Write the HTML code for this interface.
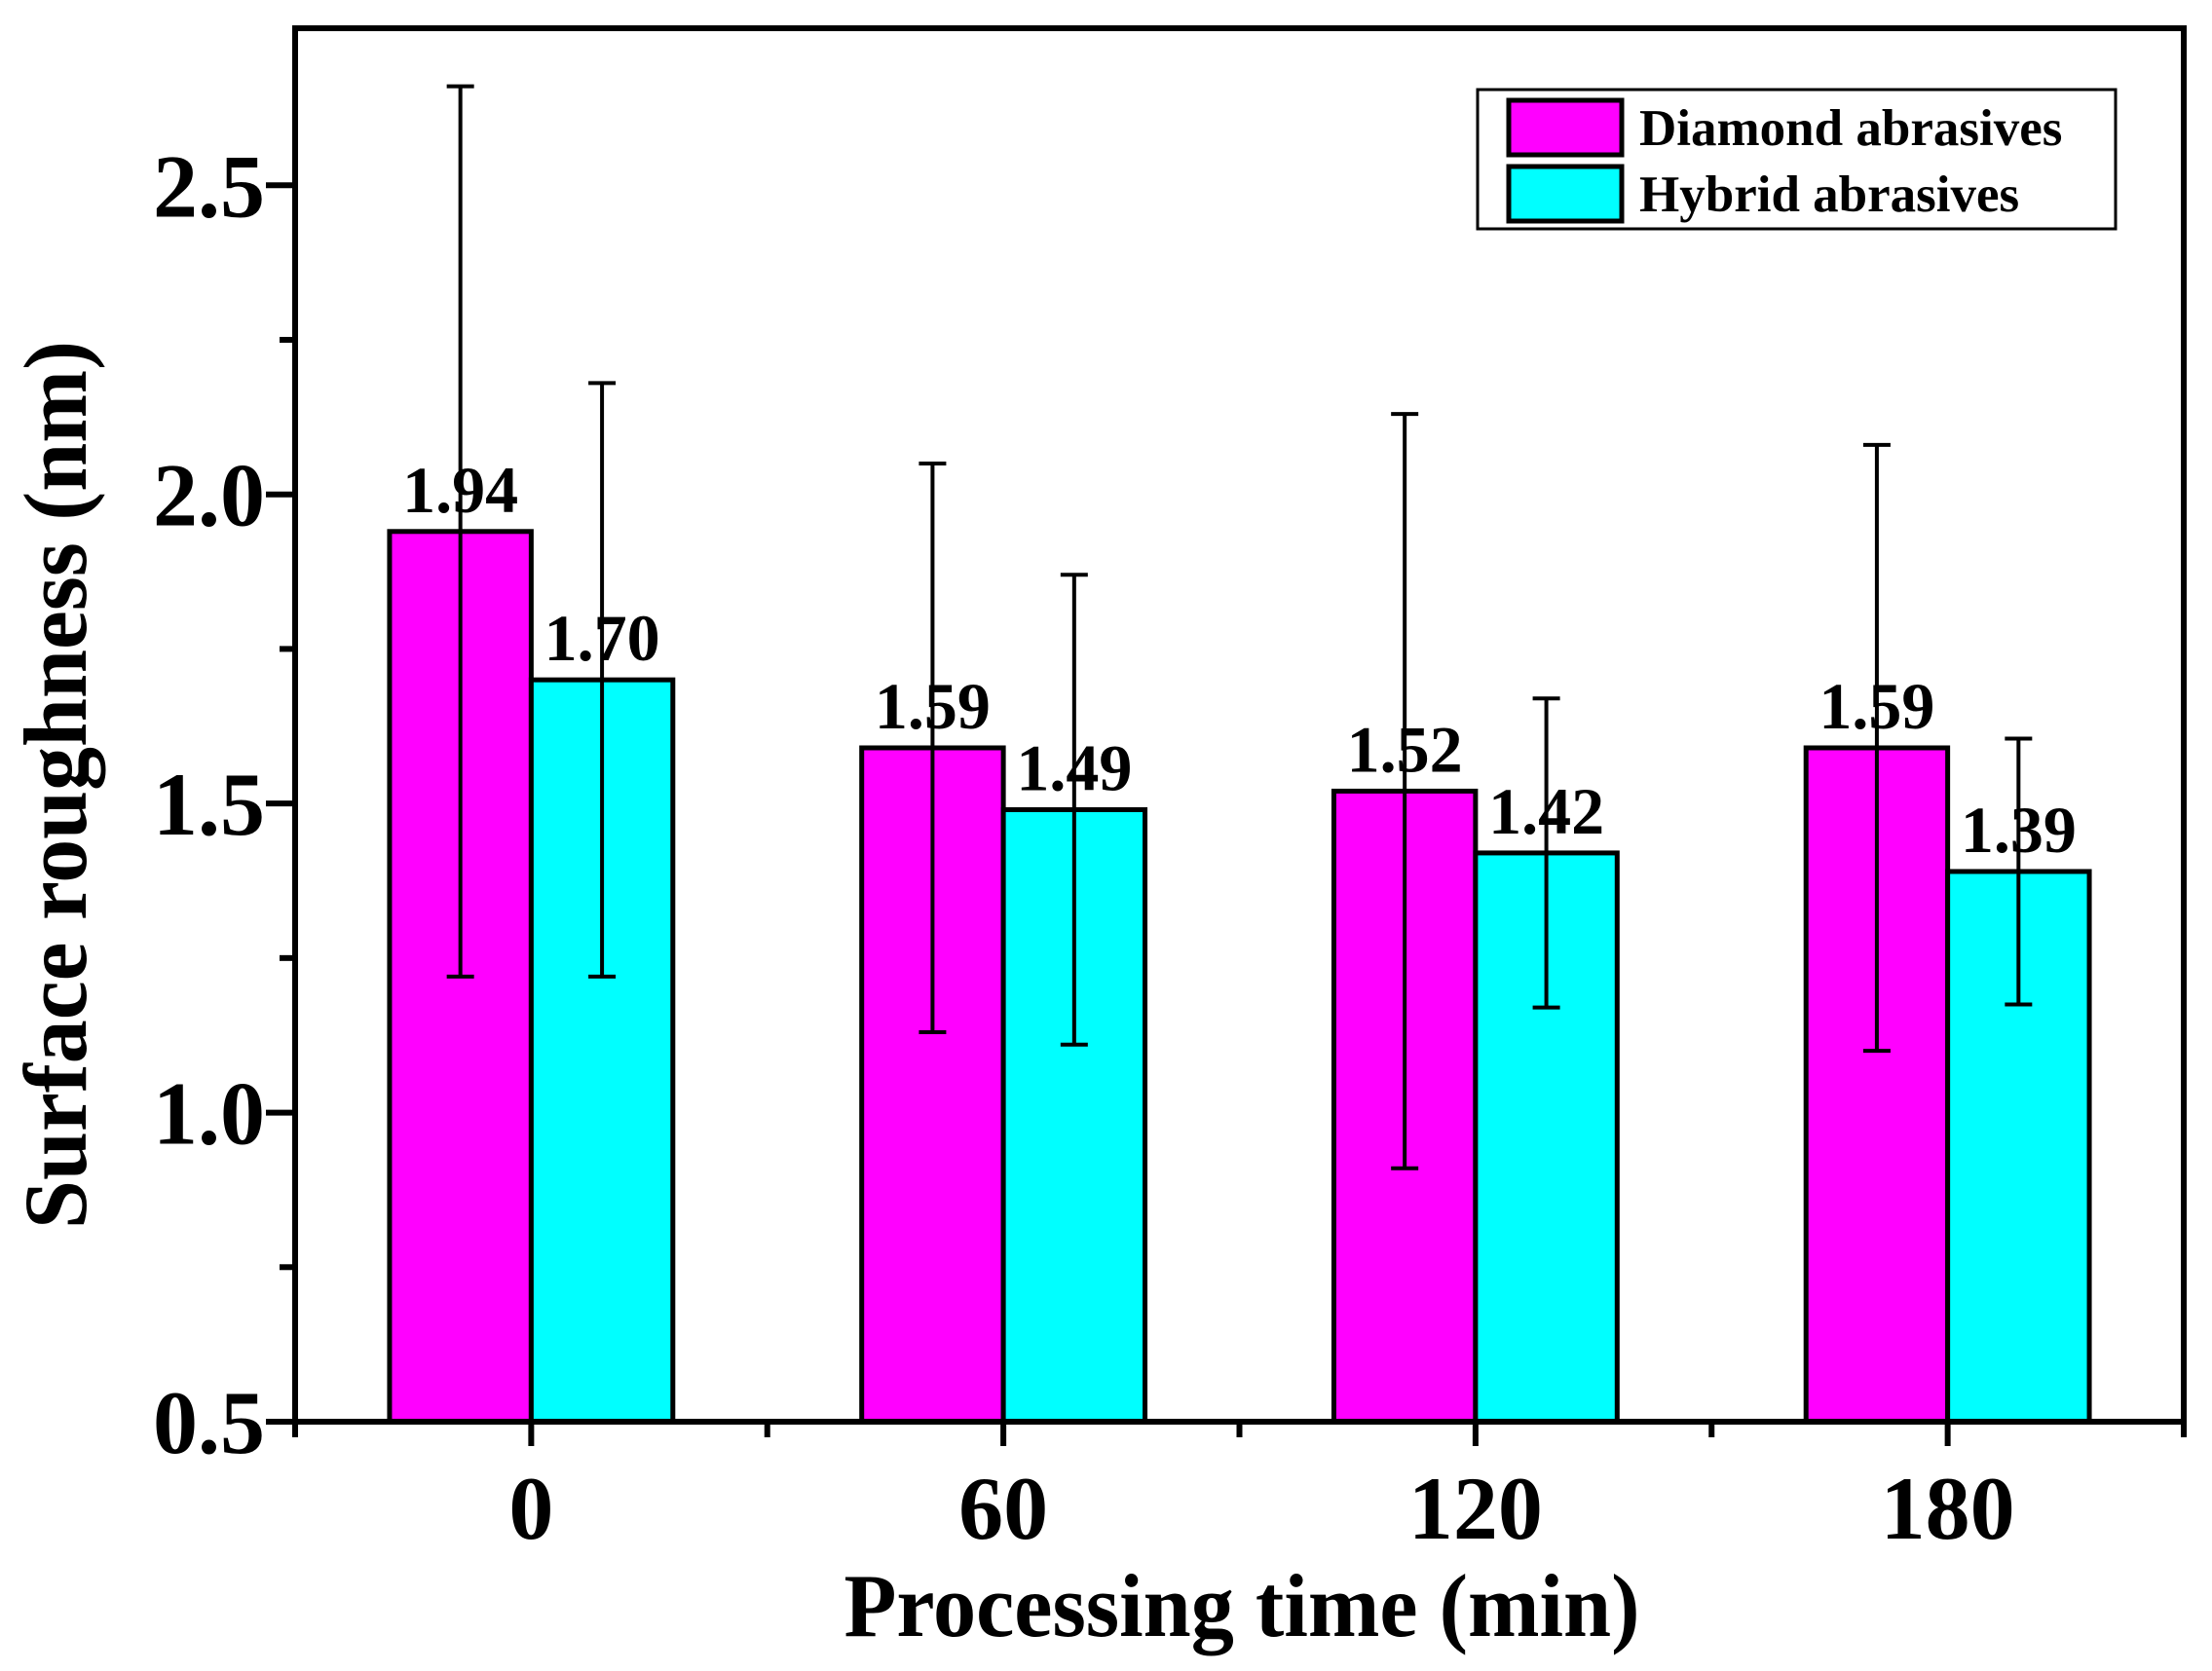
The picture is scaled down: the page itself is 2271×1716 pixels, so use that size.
<!DOCTYPE html>
<html><head><meta charset="utf-8"><style>
html,body{margin:0;padding:0;background:#fff;}
svg{display:block;}
text{font-family:"Liberation Serif","Times New Roman",serif;font-weight:bold;fill:#000;}
</style></head>
<body>
<svg id="chart" width="2271" height="1716" viewBox="0 0 2271 1716" xmlns="http://www.w3.org/2000/svg">
<g id="plot"></g>
</svg>
<script>
const categories = ["0", "60", "120", "180"];
const diamondValues = [1.94, 1.59, 1.52, 1.59];
const hybridValues = [1.70, 1.49, 1.42, 1.39];
const diamondErrors = [0.72, 0.46, 0.61, 0.49];
const hybridErrors = [0.48, 0.38, 0.25, 0.215];
const diamondLabels = ["1.94", "1.59", "1.52", "1.59"];
const hybridLabels = ["1.70", "1.49", "1.42", "1.39"];
const yTicks = [0.5, 1.0, 1.5, 2.0, 2.5];
const yTickLabels = ["0.5", "1.0", "1.5", "2.0", "2.5"];
const yMinorTicks = [0.75, 1.25, 1.75, 2.25];

const L = 303, R = 2242, T = 29, B = 1460;
const yMin = 0.5, yMax = 2.754;
function y(v){ return B - (v - yMin) / (yMax - yMin) * (B - T); }
function x(i){ return L + (i + 0.5) / categories.length * (R - L); }
const catW = (R - L) / categories.length;
const barW = catW * 0.3;

const NS = "http://www.w3.org/2000/svg";
const g = document.getElementById('plot');
function el(tag, attrs, parent){
  const e = document.createElementNS(NS, tag);
  for (const k in attrs) e.setAttribute(k, attrs[k]);
  (parent || g).appendChild(e);
  return e;
}

function drawSeries(vals, errs, labels, color, offset, name){
  vals.forEach((v, i) => {
    const x0 = x(i) + offset;
    const r = el('rect', {x: x0, y: y(v), width: barW, height: B - y(v), fill: color, stroke: '#000', 'stroke-width': 5});
    
    
  });
  vals.forEach((v, i) => {
    const cx = x(i) + offset + barW / 2;
    const e = el('path', {d: `M${cx},${y(v + errs[i])}V${y(v - errs[i])}M${cx - 14},${y(v + errs[i])}H${cx + 14}M${cx - 14},${y(v - errs[i])}H${cx + 14}`, stroke: '#000', 'stroke-width': 4, fill: 'none'});
    
    
    const t = el('text', {x: cx, y: y(v) - 20, 'text-anchor': 'middle', 'font-size': 68});
    t.textContent = labels[i];
    
    
  });
}
drawSeries(diamondValues, diamondErrors, diamondLabels, '#ff00ff', -barW, 'diamond');
drawSeries(hybridValues, hybridErrors, hybridLabels, '#00ffff', 0, 'hybrid');

const frame = el('rect', {x: L, y: T, width: R - L, height: B - T, fill: 'none', stroke: '#000', 'stroke-width': 6});



yTicks.forEach((v, i) => {
  const tk = el('line', {x1: L - 30, x2: L, y1: y(v), y2: y(v), stroke: '#000', 'stroke-width': 6});
  
  
  const t = el('text', {x: 272, y: y(v) + 32, 'text-anchor': 'end', 'font-size': 92});
  t.textContent = yTickLabels[i];
  
  
});
yMinorTicks.forEach(v => {
  const tk = el('line', {x1: L - 16, x2: L, y1: y(v), y2: y(v), stroke: '#000', 'stroke-width': 6});
  
  
});
categories.forEach((c, i) => {
  const tk = el('line', {x1: x(i), x2: x(i), y1: B, y2: B + 25, stroke: '#000', 'stroke-width': 6});
  
  
  const t = el('text', {x: x(i), y: 1580, 'text-anchor': 'middle', 'font-size': 92});
  t.textContent = c;
  
  
});
for (let i = 0; i <= categories.length; i++){
  const xx = L + i * catW;
  const tk = el('line', {x1: xx, x2: xx, y1: B, y2: B + 16, stroke: '#000', 'stroke-width': 6});
  
  
}

const xt = el('text', {x: 1275, y: 1680, 'text-anchor': 'middle', 'font-size': 92, textLength: 817, lengthAdjust: 'spacingAndGlyphs'});
xt.textContent = 'Processing time (min)';


const yt = el('text', {x: 0, y: 0, 'text-anchor': 'middle', 'font-size': 92, textLength: 912, lengthAdjust: 'spacingAndGlyphs', transform: 'translate(88,806) rotate(-90)'});
yt.textContent = 'Surface roughness (nm)';



const lg = el('g', {});


el('rect', {x: 1517, y: 92, width: 655, height: 143, fill: '#fff', stroke: '#000', 'stroke-width': 3}, lg);
const legendItems = [['Diamond abrasives', '#ff00ff', 101], ['Hybrid abrasives', '#00ffff', 169]];
legendItems.forEach(([label, color, yy]) => {
  const s = el('rect', {x: 1549, y: yy + 2, width: 116, height: 56, fill: color, stroke: '#000', 'stroke-width': 5}, lg);
  
  
  const t = el('text', {x: 1683, y: yy + 48, 'font-size': 53}, lg);
  t.textContent = label;
  
  
});
</script>
</body></html>
